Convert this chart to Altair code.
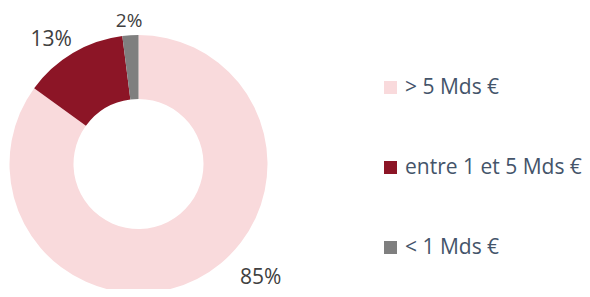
import altair as alt
import pandas as pd

categories = ["> 5 Mds €", "entre 1 et 5 Mds €", "< 1 Mds €"]
shares = [85, 13, 2]
labels = ["85%", "13%", "2%"]
colors = ["#F9DADC", "#8C1526", "#7F7F7F"]

df = pd.DataFrame({"cat": categories, "share": shares, "label": labels,
                   "order": list(range(len(categories)))})

cx, cy = 130.5, 156

base = alt.Chart(df).encode(
    theta=alt.Theta("share:Q", stack=True),
    order=alt.Order("order:Q"),
    x=alt.value(cx),
    y=alt.value(cy),
)

arcs = base.mark_arc(outerRadius=129, innerRadius=65).encode(
    color=alt.Color(
        "cat:N",
        scale=alt.Scale(domain=categories, range=colors),
        sort=categories,
        legend=alt.Legend(
            title=None,
            orient="none",
            legendX=372,
            legendY=69,
            symbolType="square",
            symbolSize=169,
            symbolStrokeWidth=0,
            labelFont="Open Sans",
            labelFontSize=21,
            labelColor="#44546A",
            labelOffset=4,
            rowPadding=58,
            padding=0,
            labelLimit=300,
        ),
    )
)

def lab(cat, radius, dx, dy, size=21):
    return base.mark_text(radius=radius, dx=dx, dy=dy, font="Open Sans",
                          fontSize=size, color="#404040").encode(
        text=alt.condition(alt.datum.cat == cat, "label:N", alt.value(""))
    )

chart = alt.layer(
    arcs,
    lab(categories[0], 150, 54, -20),
    lab(categories[1], 152, -10, 7),
    lab(categories[2], 149, 0, 6, 19),
).properties(
    width=574, height=281,
    autosize=alt.AutoSizeParams(type="none"),
    padding=0,
).configure_view(stroke=None)

chart.save("out.html", embed_options={"renderer": "svg", "actions": False})
